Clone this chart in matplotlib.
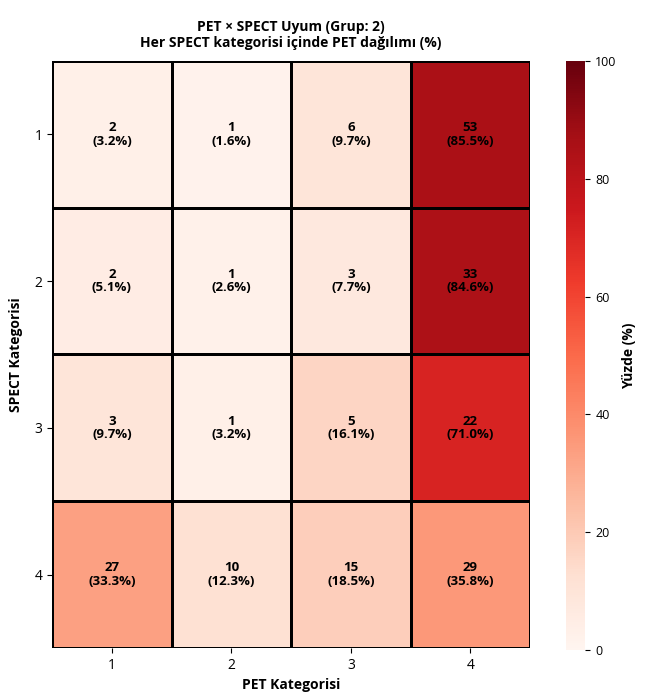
import numpy as np
import matplotlib
matplotlib.use("Agg")
import matplotlib.pyplot as plt

plt.rcParams['font.family'] = ['Open Sans', 'DejaVu Sans']

pet_labels = ["1", "2", "3", "4"]
spect_labels = ["1", "2", "3", "4"]
counts = np.array([
    [2, 1, 6, 53],
    [2, 1, 3, 33],
    [3, 1, 5, 22],
    [27, 10, 15, 29],
])
percents = np.array([
    [3.2, 1.6, 9.7, 85.5],
    [5.1, 2.6, 7.7, 84.6],
    [9.7, 3.2, 16.1, 71.0],
    [33.3, 12.3, 18.5, 35.8],
])

fig = plt.figure(figsize=(6.52, 6.93), dpi=100)
ax = fig.add_axes([0.080, 0.065, 0.733, 0.847])
cax = fig.add_axes([0.868, 0.062, 0.030, 0.850])

mesh = ax.pcolormesh(np.arange(5), np.arange(5), percents, cmap="Reds", vmin=0, vmax=100,
                     edgecolors="black", linewidth=1.0)
ax.set_xlim(0, 4)
ax.set_ylim(4, 0)
ax.set_xticks(np.arange(4) + 0.5)
ax.set_xticklabels(pet_labels, fontsize=10)
ax.set_yticks(np.arange(4) + 0.5)
ax.set_yticklabels(spect_labels, fontsize=10, rotation=0)
for s in ax.spines.values():
    s.set_visible(False)

for i in range(4):
    for j in range(4):
        ax.text(j + 0.5, i + 0.5, f"{counts[i, j]}\n({percents[i, j]:.1f}%)",
                ha="center", va="center", fontsize=9.5, fontweight="bold", color="black",
                linespacing=1.05)

ax.set_xlabel("PET Kategorisi", fontsize=10, fontweight="bold", labelpad=4)
ax.set_ylabel("SPECT Kategorisi", fontsize=10, fontweight="bold", labelpad=8)
ax.set_title("PET × SPECT Uyum (Grup: 2)\nHer SPECT kategorisi içinde PET dağılımı (%)",
             fontsize=10, fontweight="bold", pad=10)

cb = fig.colorbar(mesh, cax=cax)
cb.outline.set_visible(False)
cb.set_ticks([0, 20, 40, 60, 80, 100])
cb.ax.tick_params(labelsize=9)
cb.set_label("Yüzde (%)", fontsize=10, fontweight="bold")

fig.savefig("out.png", dpi=100)
